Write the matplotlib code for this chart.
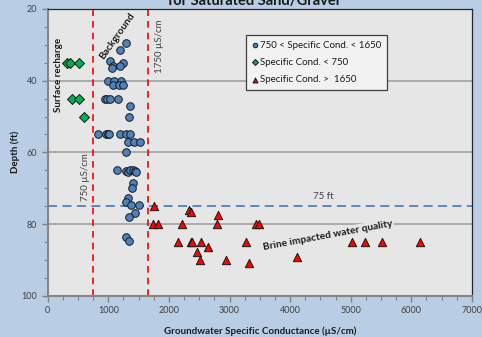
import matplotlib
matplotlib.use("Agg")
import matplotlib.pyplot as plt
from matplotlib.ticker import MultipleLocator

plt.rcParams['font.family'] = ['Lato', 'DejaVu Sans']

# Specific conductance (uS/cm) and sample depth (ft)
mid_cond = [1290, 1200, 1020, 1237, 1083, 1200, 1060,
            990, 1100, 1215, 1070, 1180, 1240,
            945, 975, 1020, 1155, 1363, 1335,
            835, 962, 995, 1012, 1198, 1287, 1353,
            1320, 1420, 1520, 1300,
            1138, 1300, 1330, 1360, 1410, 1440, 1465,
            1402, 1385, 1330, 1290, 1370, 1512, 1445, 1345, 1295, 1338]
mid_depth = [29.5, 31.5, 34.5, 35, 36, 36, 36.5,
             40, 40, 40, 41.3, 41.3, 41.3,
             45, 45, 45, 45, 47, 50,
             55, 55, 55, 55, 55, 55, 55,
             57, 57, 57, 60,
             65, 65.3, 65.5, 65, 65, 65.3, 65.5,
             68.6, 70, 72.8, 73.8, 74.8, 74.8, 77, 78, 83.7, 84.7]

low_cond = [310, 370, 520, 395, 510, 605]
low_depth = [35, 35, 35, 45, 45, 50]

high_cond = [1759, 1731, 1820, 2224, 2797, 3440, 3495,
             2335, 2362, 2805,
             2142, 2360, 2388, 2525, 3277, 5021, 5241, 5516, 6143,
             2648, 2467, 2519, 2934, 3330, 4116]
high_depth = [75, 80, 80, 80, 80, 80, 80,
              76, 76.6, 77.6,
              85, 85, 85, 85, 85, 85, 85, 85, 85,
              86.5, 87.7, 90, 90, 91, 89.2]

legend_labels = ["750 < Specific Cond. < 1650",
                 "Specific Cond. < 750",
                 "Specific Cond. >  1650"]

low_cutoff = 750
high_cutoff = 1650
brine_depth = 75

fig_bg = '#b9cde5'
ax_bg = '#e6e6e6'
txt = '#404040'

fig = plt.figure(figsize=(4.82, 3.37), dpi=100, facecolor=fig_bg)
ax = fig.add_axes([0.099, 0.1226, 0.880, 0.8507], facecolor=ax_bg)

ax.set_xlim(0, 7000)
ax.set_ylim(100, 20)
ax.xaxis.set_major_locator(MultipleLocator(1000))
ax.xaxis.set_minor_locator(MultipleLocator(250))
ax.yaxis.set_major_locator(MultipleLocator(20))
ax.yaxis.set_minor_locator(MultipleLocator(5))
ax.tick_params(axis='both', which='major', labelsize=6.5, labelcolor=txt,
               color='#808080', length=4, width=1)
ax.tick_params(axis='both', which='minor', color='#808080', length=3, width=0.8)

ax.grid(axis='y', which='major', color='#a6a6a6', lw=1.3, zorder=0)
ax.set_axisbelow(True)

for s in ('left', 'bottom'):
    ax.spines[s].set_color('#868686')
    ax.spines[s].set_linewidth(1.5)
for s in ('top', 'right'):
    ax.spines[s].set_color('#262626')
    ax.spines[s].set_linewidth(0.9)

# reference lines
ax.axvline(low_cutoff, color='#ff0000', ls=(0, (4, 3)), lw=1.2, zorder=1)
ax.axvline(high_cutoff, color='#ff0000', ls=(0, (4, 3)), lw=1.2, zorder=1)
ax.axhline(brine_depth, color='#4f81bd', ls=(0, (5, 3)), lw=1.3, zorder=1)

ax.scatter(mid_cond, mid_depth, s=30, marker='o', c='#4f81bd',
           edgecolors='#1a1a1a', linewidths=0.7, zorder=3, label=legend_labels[0])
ax.scatter(low_cond, low_depth, s=26, marker='D', c='#00b050',
           edgecolors='#1a1a1a', linewidths=0.7, zorder=3, label=legend_labels[1])
ax.scatter(high_cond, high_depth, s=36, marker='^', c='#ff0000',
           edgecolors='#1a1a1a', linewidths=0.7, zorder=3, label=legend_labels[2])

# annotations
ax.text(175, 38.5, 'Surface recharge', rotation=90, ha='center', va='center',
        fontsize=7, fontweight='bold', color='#1a1a1a')
ax.text(1140, 27.5, 'Background', rotation=55, ha='center', va='center',
        fontsize=7.3, fontweight='bold', color='#1a1a1a')
ax.text(1840, 30.3, '1750 µS/cm', rotation=90, ha='center', va='center',
        fontsize=7, color=txt)
ax.text(630, 67, '750 µS/cm', rotation=90, ha='center', va='center',
        fontsize=7, color=txt)
ax.text(4540, 72.2, '75 ft', ha='center', va='center', fontsize=7, color=txt)
ax.text(4620, 83.3, 'Brine impacted water quality', rotation=10.5,
        ha='center', va='center', fontsize=7.3, fontweight='bold', color='#1a1a1a',
        bbox=dict(facecolor=ax_bg, edgecolor='none', pad=1.0), zorder=2)

ax.set_xlabel('Groundwater Specific Conductance (µS/cm)', fontsize=7,
              fontweight='bold', color='#1a1a1a', labelpad=8.5)
ax.set_ylabel('Depth (ft)', fontsize=7, fontweight='bold', color='#1a1a1a',
              labelpad=1)

fig.text(0.527, 0.986, 'for Saturated Sand/Gravel', ha='center', va='baseline',
         fontsize=10.5, fontweight='bold', color='#1a1a1a')

leg = ax.legend(loc='upper left', bbox_to_anchor=(0.467, 0.91), fontsize=7,
                frameon=True, fancybox=False, edgecolor='#404040',
                facecolor='#f2f2f2', framealpha=1, markerscale=0.6,
                handlelength=0.6, handletextpad=0.3, labelspacing=0.85,
                borderpad=0.6, borderaxespad=0)
leg.get_frame().set_linewidth(0.9)
for t in leg.get_texts():
    t.set_color('#1a1a1a')

fig.savefig('out.png', dpi=100, facecolor=fig_bg)
